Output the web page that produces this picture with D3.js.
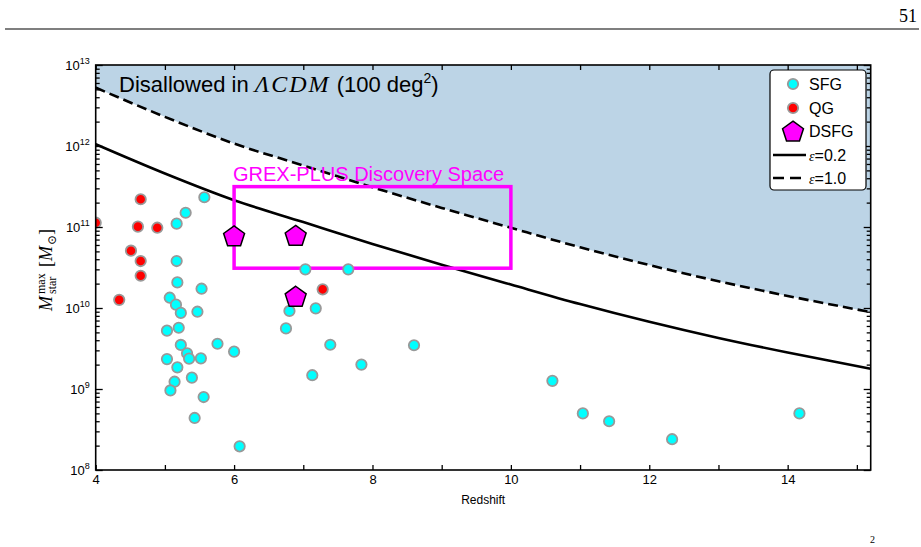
<!DOCTYPE html>
<html>
<head>
<meta charset="utf-8" />
<title>max stellar mass vs redshift</title>
<style>
  body { margin: 0; background: #fff; }
  svg text { font-family: "Liberation Sans", Arial, sans-serif; }
  .serif { font-family: "Liberation Serif", "DejaVu Serif", serif; }
</style>
</head>
<body>
<div id="wrapper"></div>
<script src="https://d3js.org/d3.v7.min.js"></script>
<script>
const width = 921
const height = 547

// star forming galaxies: redshift, stellar mass
const sfgZ = [5.57, 5.30, 5.17, 5.17, 5.18, 5.53, 5.07, 5.16, 5.23, 5.47,
  5.03, 5.20, 5.23, 5.32, 5.35, 5.52, 5.76, 6.00, 5.03, 5.18, 5.39, 5.14,
  5.08, 5.56, 5.43, 6.08, 6.80, 6.75, 7.03, 7.65, 7.18, 7.39, 8.60, 7.84,
  7.13, 10.60, 11.04, 11.42, 12.33, 14.17]
const sfgM = [2.33e11, 1.50e11, 1.10e11, 3.80e10, 2.07e10, 1.73e10, 1.34e10,
  1.10e10, 8.7e9, 9.0e9, 5.25e9, 5.7e9, 3.5e9, 2.76e9, 2.37e9, 2.39e9, 3.62e9,
  2.89e9, 2.34e9, 1.85e9, 1.38e9, 1.23e9, 9.6e8, 7.96e8, 4.39e8, 1.96e8,
  9.2e9, 5.6e9, 3.0e10, 3.0e10, 9.9e9, 3.52e9, 3.47e9, 2.0e9, 1.48e9,
  1.26e9, 5.0e8, 4.0e8, 2.4e8, 5.0e8]

// quiescent galaxies
const qgZ = [4.00, 4.34, 4.51, 4.65, 4.61, 4.65, 4.65, 4.89, 7.28]
const qgM = [1.13e11, 1.26e10, 5.1e10, 2.2e11, 1.01e11, 3.8e10, 2.5e10, 9.8e10, 1.7e10]

// dusty star forming galaxies
const dsfgZ = [6.00, 6.89, 6.89]
const dsfgM = [7.8e10, 7.9e10, 1.4e10]

// maximum stellar mass curves
const curveZ = [4, 5, 6, 7, 8, 9, 10, 11, 12, 13, 14, 15.2]
const eps02M = [1.05e12, 4.57e11, 2.14e11, 1.15e11, 6.17e10, 3.43e10, 1.95e10,
  1.12e10, 6.76e9, 4.27e9, 2.82e9, 1.78e9]
const eps10M = [5.25e12, 2.29e12, 1.07e12, 5.75e11, 3.09e11, 1.72e11, 9.77e10,
  5.62e10, 3.39e10, 2.14e10, 1.41e10, 8.9e9]

// GREX-PLUS box
const boxZ = [6, 10]
const boxM = [3.1e10, 3.15e11]

const xTicks = [4, 6, 8, 10, 12, 14]
const xMinor = [5, 7, 9, 11, 13, 15]
const yExps = [8, 9, 10, 11, 12, 13]

const pLeft = 95.7, pRight = 870.7, pTop = 65, pBottom = 470

const x = d3.scaleLinear().domain([4, 15.2]).range([pLeft, pRight])
const y = d3.scaleLog().domain([1e8, 1e13]).range([pBottom, pTop])

const svg = d3.select("#wrapper").append("svg")
  .attr("width", width).attr("height", height)

// page header
svg.append("text").attr("class", "serif")
  .attr("x", 917).attr("y", 22).attr("text-anchor", "end")
  .attr("font-size", 18).text("51")
svg.append("line").attr("x1", 5).attr("x2", 919).attr("y1", 29).attr("y2", 29)
  .attr("stroke", "#555").attr("stroke-width", 1.6)
svg.append("text").attr("class", "serif")
  .attr("x", 870).attr("y", 543).attr("font-size", 10).text("2")

svg.append("clipPath").attr("id", "plotclip").append("rect")
  .attr("x", pLeft).attr("y", pTop).attr("width", pRight - pLeft).attr("height", pBottom - pTop)

const plot = svg.append("g").attr("clip-path", "url(#plotclip)")

const curvePts = (arr) => curveZ.map((z, i) => [z, arr[i]])

// disallowed region
plot.append("path")
  .datum(curvePts(eps10M))
  .attr("fill", "#bcd4e6")
  .attr("d", d3.area().x(d => x(d[0])).y0(pTop).y1(d => y(d[1])).curve(d3.curveMonotoneX))

const line = d3.line().x(d => x(d[0])).y(d => y(d[1])).curve(d3.curveMonotoneX)

plot.append("path").datum(curvePts(eps02M))
  .attr("fill", "none").attr("stroke", "#000").attr("stroke-width", 2.6)
  .attr("d", line)
plot.append("path").datum(curvePts(eps10M))
  .attr("fill", "none").attr("stroke", "#000").attr("stroke-width", 2.6)
  .attr("stroke-dasharray", "10,5")
  .attr("d", line)

// discovery space
plot.append("rect")
  .attr("x", x(boxZ[0])).attr("y", y(boxM[1]))
  .attr("width", x(boxZ[1]) - x(boxZ[0])).attr("height", y(boxM[0]) - y(boxM[1]))
  .attr("fill", "none").attr("stroke", "#ff00ff").attr("stroke-width", 3.5)

function pentagon(r) {
  const pts = d3.range(5).map(k => {
    const a = -Math.PI / 2 + k * 2 * Math.PI / 5
    return [r * Math.cos(a), r * Math.sin(a) + r * 0.1]
  })
  return "M" + pts.join("L") + "Z"
}

plot.selectAll(".sfg").data(sfgZ).enter().append("circle")
  .attr("cx", d => x(d)).attr("cy", (d, i) => y(sfgM[i])).attr("r", 5.2)
  .attr("fill", "#00ffff").attr("stroke", "#999").attr("stroke-width", 1.8)

plot.selectAll(".qg").data(qgZ).enter().append("circle")
  .attr("cx", d => x(d)).attr("cy", (d, i) => y(qgM[i])).attr("r", 5.2)
  .attr("fill", "#ff0000").attr("stroke", "#999").attr("stroke-width", 1.8)

plot.selectAll(".dsfg").data(dsfgZ).enter().append("path")
  .attr("transform", (d, i) => `translate(${x(d)},${y(dsfgM[i])})`)
  .attr("d", pentagon(11))
  .attr("fill", "#ff00ff").attr("stroke", "#000").attr("stroke-width", 1.5)

// axes, ticks pointing inward on all sides
function tickStyle(g) {
  g.select(".domain").remove()
  g.selectAll(".tick line").attr("stroke", "#000").attr("stroke-width", 1.3)
}

svg.append("g").attr("transform", `translate(0,${pBottom})`)
  .call(d3.axisBottom(x).tickValues(xTicks).tickSize(-5).tickPadding(5).tickFormat(d3.format("d")))
  .call(tickStyle)
  .call(g => g.selectAll("text").attr("font-size", 13).attr("fill", "#000")
    .attr("font-family", "Liberation Sans, Arial, sans-serif"))
svg.append("g").attr("transform", `translate(0,${pBottom})`)
  .call(d3.axisBottom(x).tickValues(xMinor).tickSize(-5).tickFormat(""))
  .call(tickStyle)
svg.append("g").attr("transform", `translate(0,${pTop})`)
  .call(d3.axisTop(x).tickValues(xTicks.concat(xMinor)).tickSize(-5).tickFormat(""))
  .call(tickStyle)

const yMajor = yExps.map(e => Math.pow(10, e))
const yMinorVals = []
yExps.slice(0, -1).forEach(e => {
  for (let k = 2; k <= 9; k++) yMinorVals.push(k * Math.pow(10, e))
})

const yl = svg.append("g").attr("transform", `translate(${pLeft},0)`)
  .call(d3.axisLeft(y).tickValues(yMajor).tickSize(-7).tickPadding(6).tickFormat(""))
  .call(tickStyle)
yl.selectAll(".tick").each(function(d) {
  const t = d3.select(this).append("text").attr("fill", "#000")
    .attr("x", -6).attr("y", 4).attr("text-anchor", "end")
  t.append("tspan").attr("font-size", 13).text("10")
  t.append("tspan").attr("font-size", 9).attr("dy", -6).text(Math.round(Math.log10(d)))
})
svg.append("g").attr("transform", `translate(${pLeft},0)`)
  .call(d3.axisLeft(y).tickValues(yMinorVals).tickSize(-4).tickFormat(""))
  .call(tickStyle)
svg.append("g").attr("transform", `translate(${pRight},0)`)
  .call(d3.axisRight(y).tickValues(yMajor).tickSize(-7).tickFormat(""))
  .call(tickStyle)
svg.append("g").attr("transform", `translate(${pRight},0)`)
  .call(d3.axisRight(y).tickValues(yMinorVals).tickSize(-4).tickFormat(""))
  .call(tickStyle)

// frame
svg.append("rect").attr("x", pLeft).attr("y", pTop)
  .attr("width", pRight - pLeft).attr("height", pBottom - pTop)
  .attr("fill", "none").attr("stroke", "#000").attr("stroke-width", 1.6)

// axis labels
svg.append("text").attr("x", (pLeft + pRight) / 2).attr("y", 504)
  .attr("text-anchor", "middle").attr("font-size", 12).text("Redshift")

const ylab = svg.append("g").attr("transform", "translate(52,311) rotate(-90)")
ylab.append("text").attr("class", "serif").attr("font-style", "italic")
  .attr("font-size", 18).attr("x", 0).attr("y", 0).text("M")
ylab.append("text").attr("class", "serif").attr("font-size", 12)
  .attr("x", 17).attr("y", -7).text("max")
ylab.append("text").attr("class", "serif").attr("font-size", 12)
  .attr("x", 17).attr("y", 4).text("star")
ylab.append("text").attr("class", "serif").attr("font-size", 18)
  .attr("x", 44).attr("y", 0).text("[")
ylab.append("text").attr("class", "serif").attr("font-style", "italic")
  .attr("font-size", 18).attr("x", 50).attr("y", 0).text("M")
ylab.append("text").attr("class", "serif").attr("font-size", 12)
  .attr("x", 66).attr("y", 4).text("⊙")
ylab.append("text").attr("class", "serif").attr("font-size", 18)
  .attr("x", 76).attr("y", 0).text("]")

// annotations
const dis = svg.append("text").attr("x", 119).attr("y", 92).attr("font-size", 22)
dis.append("tspan").text("Disallowed in ")
dis.append("tspan").attr("class", "serif").attr("font-style", "italic")
  .attr("font-size", 24).attr("letter-spacing", 2).text("ΛCDM")
dis.append("tspan").text(" (100 deg")
dis.append("tspan").attr("font-size", 14).attr("dy", -9).text("2")
dis.append("tspan").attr("dy", 9).text(")")

svg.append("text").attr("x", 233).attr("y", 181).attr("font-size", 20)
  .attr("fill", "#ff00ff").text("GREX-PLUS Discovery Space")

// legend
const lg = svg.append("g")
lg.append("rect").attr("x", 770).attr("y", 70).attr("width", 96).attr("height", 120)
  .attr("rx", 4).attr("fill", "#fff").attr("stroke", "#000").attr("stroke-width", 1.2)
const lx = 793, tx = 809
const rows = [84, 108, 131, 155, 178]
lg.append("circle").attr("cx", lx).attr("cy", rows[0]).attr("r", 5.2)
  .attr("fill", "#00ffff").attr("stroke", "#999").attr("stroke-width", 1.8)
lg.append("circle").attr("cx", lx).attr("cy", rows[1]).attr("r", 5.2)
  .attr("fill", "#ff0000").attr("stroke", "#999").attr("stroke-width", 1.8)
lg.append("path").attr("transform", `translate(${lx},${rows[2]})`).attr("d", pentagon(11))
  .attr("fill", "#ff00ff").attr("stroke", "#000").attr("stroke-width", 1.5)
lg.append("line").attr("x1", 773).attr("x2", 806).attr("y1", rows[3]).attr("y2", rows[3])
  .attr("stroke", "#000").attr("stroke-width", 2.6)
lg.append("line").attr("x1", 773).attr("x2", 806).attr("y1", rows[4]).attr("y2", rows[4])
  .attr("stroke", "#000").attr("stroke-width", 2.6).attr("stroke-dasharray", "11,6")
const labels = ["SFG", "QG", "DSFG"]
labels.forEach((s, i) => lg.append("text").attr("x", tx).attr("y", rows[i] + 6)
  .attr("font-size", 16).text(s))
;["0.2", "1.0"].forEach((v, i) => {
  const t = lg.append("text").attr("x", tx).attr("y", rows[3 + i] + 6).attr("font-size", 16)
  t.append("tspan").attr("class", "serif").attr("font-style", "italic").attr("font-size", 14).text("ε")
  t.append("tspan").text("=" + v)
})
</script>
</body>
</html>
